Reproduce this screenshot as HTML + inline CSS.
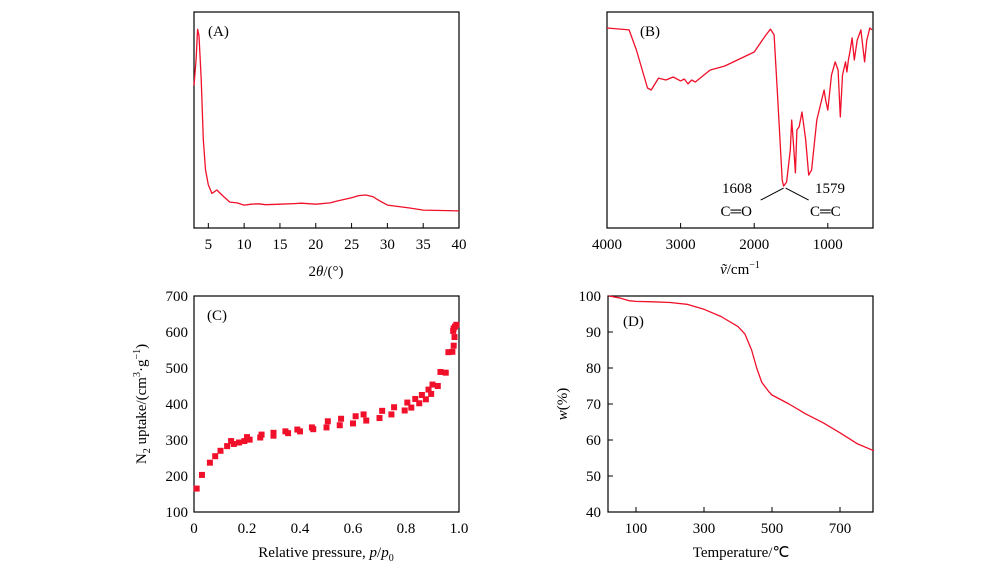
<!DOCTYPE html>
<html><head><meta charset="utf-8"><style>
body{margin:0;background:#fff;}
svg{display:block;font-family:"Liberation Serif",serif;}
</style></head><body>
<svg id="fig" width="1000" height="571" viewBox="0 0 1000 571"></svg>
<script>
const xrdX=[3.0,3.3,3.5,3.7,4.0,4.3,4.6,5,5.5,6.2,7,8,9,10,11,12,13,15,17,18,20,22,23,25,26,27,28,28.5,30,33,35,40];
const xrdY=[66,78,92,89,69,41,27,20,16,17.6,15,12,11.6,10.6,11,11.2,10.8,11,11.3,11.5,11,11.6,12.5,14,15,15.3,14.5,13.4,10.6,9.3,8.3,7.9];
const irX=[4000,3700,3600,3450,3400,3300,3200,3100,3000,2950,2900,2850,2800,2600,2400,2000,1850,1780,1730,1680,1620,1600,1560,1510,1490,1460,1440,1420,1390,1350,1300,1260,1220,1150,1100,1050,1030,1000,950,900,860,830,800,760,740,720,700,670,640,600,550,500,470,430,400];
const irY=[92.6,91.7,82.4,64.8,63.9,69.4,68.5,69.9,68.1,69,66.7,68.5,67.6,73.1,75,81.5,88.9,92.1,89.4,59.3,22.2,19.4,21.3,36.1,50,36.1,25.5,45.4,46.8,53.7,40.7,24.5,26.9,50,56.9,63.9,59.3,54.6,70.8,76.9,73.1,51.4,70.8,76.9,72.2,77.8,81.5,88,77.8,87,91.7,76.9,87,92.6,91.7];
const betP=[0.01,0.03,0.06,0.08,0.10,0.125,0.14,0.15,0.17,0.19,0.20,0.21,0.25,0.255,0.30,0.30,0.345,0.355,0.39,0.40,0.445,0.45,0.50,0.505,0.55,0.555,0.60,0.61,0.64,0.65,0.70,0.71,0.745,0.755,0.795,0.805,0.82,0.835,0.85,0.86,0.875,0.885,0.895,0.90,0.92,0.93,0.95,0.96,0.975,0.98,0.983,0.978,0.98,0.985,0.99];
const betV=[165,203,237,255,270,283,297,289,293,297,308,301,307,315,312,320,324,319,329,324,335,330,335,352,341,359,346,366,371,354,361,381,371,391,382,404,390,414,402,425,413,440,428,454,450,489,487,544,545,562,586,603,610,615,620];
const tgaT=[20,50,80,100,150,200,250,300,350,400,420,440,455,470,490,500,550,600,650,700,750,800];
const tgaW=[100,99.5,98.7,98.5,98.4,98.2,97.7,96.3,94.3,91.5,89.5,85,80,76,73.5,72.5,70,67.2,64.8,62,59,57];
const xTicksA=[5,10,15,20,25,30,35,40];
const xTicksB=[4000,3000,2000,1000];
const xTicksC=[0,0.2,0.4,0.6,0.8,1.0];
const yTicksC=[100,200,300,400,500,600,700];
const xTicksD=[100,300,500,700];
const yTicksD=[40,50,60,70,80,90,100];

const svg=document.getElementById('fig');
const NS='http://www.w3.org/2000/svg';
function mk(tag,attrs,parent){const e=document.createElementNS(NS,tag);for(const k in attrs)e.setAttribute(k,attrs[k]);(parent||svg).appendChild(e);return e;}
function lin(d0,d1,r0,r1){return v=>r0+(v-d0)*(r1-r0)/(d1-d0);}
function txt(x,y,s,anchor,name,parent,size){const t=mk('text',{x:x,y:y,'text-anchor':anchor||'middle','font-size':size||15,fill:'#000'},parent);t.innerHTML=s;return t;}
function panel(name,L,R,T,B){const g=mk('g',{});
 const r=mk('rect',{x:L,y:T,width:R-L,height:B-T,fill:'none',stroke:'#000','stroke-width':1.2},g);return g;}
function line(g,xs,ys,sx,sy,name){let d='';xs.forEach((x,i)=>{d+=(i?'L':'M')+sx(x).toFixed(1)+' '+sy(ys[i]).toFixed(1);});const p=mk('path',{d:d,fill:'none',stroke:'#f0102a','stroke-width':1.3,'stroke-linejoin':'round'},g);}

// Panel A
{const L=194,R=459,T=12,B=228;const g=panel('panel-a-xrd',L,R,T,B);
 const sx=lin(3,40,L,R),sy=lin(0,100,B,T);
 xTicksA.forEach(v=>{const t=mk('line',{x1:sx(v),x2:sx(v),y1:B,y2:B-5,stroke:'#000'},g);txt(sx(v),249,v,'middle','x-tick-label',g);});
 line(g,xrdX,xrdY,sx,sy,'xrd-curve');
 txt(208,36,'(A)','start','panel-label',g);
 txt(326,276,'2<tspan font-style="italic">θ</tspan>/(°)','middle','x-axis-title',g);}
// Panel B
{const L=607,R=873,T=12,B=228;const g=panel('panel-b-ftir',L,R,T,B);
 const sx=lin(4000,4000-(R-L)/0.0736,L,R),sy=lin(0,100,B,T);
 xTicksB.forEach(v=>{const t=mk('line',{x1:sx(v),x2:sx(v),y1:B,y2:B-5,stroke:'#000'},g);txt(sx(v),249,v,'middle','x-tick-label',g);});
 line(g,irX,irY,sx,sy,'ftir-curve');
 const cx=sx(1600),cy=sy(19.4)+2;
 const a1=mk('line',{x1:cx,y1:cy,x2:cx-23,y2:cy+12,stroke:'#000'},g);
 const a2=mk('line',{x1:cx+2,y1:cy,x2:cx+25,y2:cy+12,stroke:'#000'},g);
 txt(752,193,'1608','end','peak-label-1608',g);txt(752,216,'C═O','end','bond-label-co',g);
 txt(815,193,'1579','start','peak-label-1579',g);txt(810,216,'C═C','start','bond-label-cc',g);
 txt(640,36,'(B)','start','panel-label',g);
 txt(740,274,'<tspan font-style="italic">ṽ</tspan>/cm<tspan font-size="10" dy="-6">−1</tspan>','middle','x-axis-title',g);}
// Panel C
{const L=194,R=459,T=296,B=512;const g=panel('panel-c-n2-isotherm',L,R,T,B);
 const sx=lin(0,1,L,R),sy=lin(100,700,B,T);
 xTicksC.forEach(v=>txt(sx(v),533,v===0?'0':v.toFixed(1),'middle','x-tick-label',g));
 yTicksC.forEach(v=>txt(188,sy(v)+5,v,'end','y-tick-label',g));
 betP.forEach((p,i)=>{const r=mk('rect',{x:sx(p)-3,y:sy(betV[i])-3,width:6,height:6,fill:'#f0102a'},g);});
 txt(207,320,'(C)','start','panel-label',g);
 txt(326,557,'Relative pressure, <tspan font-style="italic">p</tspan>/<tspan font-style="italic">p</tspan><tspan font-size="10" dy="4">0</tspan>','middle','x-axis-title',g);
 const yt=txt(0,0,'N<tspan font-size="10" dy="4">2</tspan><tspan dy="-4"> uptake/(cm</tspan><tspan font-size="10" dy="-6">3</tspan><tspan dy="6">·g</tspan><tspan font-size="10" dy="-6">−1</tspan><tspan dy="6">)</tspan>','middle','y-axis-title',g);
 yt.setAttribute('transform','translate(146,404) rotate(-90)');}
// Panel D
{const L=608,R=873,T=296,B=512;const g=panel('panel-d-tga',L,R,T,B);
 const sx=lin(100,700,636,840),sy=lin(40,100,B,T);
 xTicksD.forEach(v=>{const t=mk('line',{x1:sx(v),x2:sx(v),y1:B,y2:B-5,stroke:'#000'},g);txt(sx(v),533,v,'middle','x-tick-label',g);});
 yTicksD.forEach(v=>{const t=mk('line',{x1:L,x2:L+5,y1:sy(v),y2:sy(v),stroke:'#000'},g);txt(601,sy(v)+5,v,'end','y-tick-label',g);});
 line(g,tgaT,tgaW,sx,sy,'tga-curve');
 txt(623,326,'(D)','start','panel-label',g);
 txt(741,557,'Temperature/℃','middle','x-axis-title',g);
 const yt=txt(0,0,'<tspan font-style="italic">w</tspan>(%)','middle','y-axis-title',g);
 yt.setAttribute('transform','translate(567,404) rotate(-90)');}
</script>
</body></html>
